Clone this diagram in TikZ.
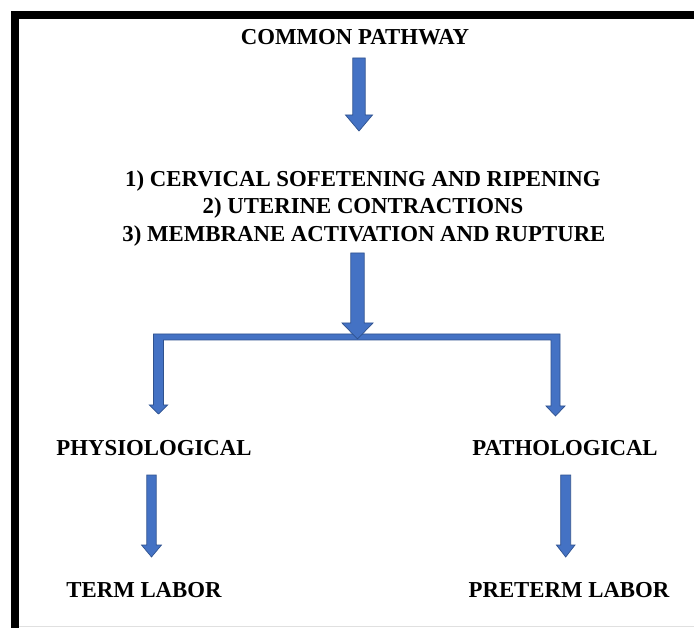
\documentclass[tikz,border=0pt]{standalone}
\usepackage{fontspec}
\setmainfont{Liberation Serif}
\definecolor{arrowfill}{HTML}{4472C4}
\definecolor{arrowline}{HTML}{2F528F}
\begin{document}
\begin{tikzpicture}[x=1pt,y=-1pt,
  lbl/.style={inner sep=0pt,anchor=base,font=\fontsize{22.8}{27.5}\selectfont\bfseries},
  blockarrow/.style={fill=arrowfill,draw=arrowline,line width=0.7pt,line join=miter},
  frameline/.style={fill=black}]
\useasboundingbox (0,0) rectangle (694,628);
\fill[white] (0,0) rectangle (694,628);
% frame
\fill[frameline] (11,11) rectangle (694,19);
\fill[frameline] (11,11) rectangle (19,628);
\draw[black!12,line width=0.8pt] (19,626) -- (694,626);
% texts
\node[lbl] (common) at (355,45) {COMMON PATHWAY};
\node[lbl] (step1) at (363,187) {1) CERVICAL SOFETENING AND RIPENING};
\node[lbl] (step2) at (363,214) {2) UTERINE CONTRACTIONS};
\node[lbl] (step3) at (364,242) {3) MEMBRANE ACTIVATION AND RUPTURE};
\node[lbl] (physio) at (154,456) {PHYSIOLOGICAL};
\node[lbl] (patho) at (565,456) {PATHOLOGICAL};
\node[lbl] (term) at (144,597) {TERM LABOR};
\node[lbl] (preterm) at (569,597) {PRETERM LABOR};
% arrow 1
\draw[blockarrow] (352.8,58) -- (365.2,58) -- (365.2,115) -- (372.5,115) -- (359,131) -- (345.5,115) -- (352.8,115) -- cycle;
% elbow connector
\draw[blockarrow] (153.5,334) -- (560,334) -- (560,406) -- (565,406) -- (555.5,416) -- (546,406) -- (551,406) -- (551,340) -- (163.5,340) -- (163.5,405) -- (167.7,405) -- (158.5,414) -- (149.3,405) -- (153.5,405) -- cycle;
% arrow 2
\draw[blockarrow] (350.8,253) -- (364.2,253) -- (364.2,323) -- (373,323) -- (357.5,339) -- (342,323) -- (350.8,323) -- cycle;
% arrow 3
\draw[blockarrow] (146.8,475) -- (156.2,475) -- (156.2,545) -- (161.5,545) -- (151.5,557) -- (141.5,545) -- (146.8,545) -- cycle;
% arrow 4
\draw[blockarrow] (560.7,475) -- (570.7,475) -- (570.7,545) -- (575,545) -- (565.7,557) -- (556.4,545) -- (560.7,545) -- cycle;
\end{tikzpicture}
\end{document}
